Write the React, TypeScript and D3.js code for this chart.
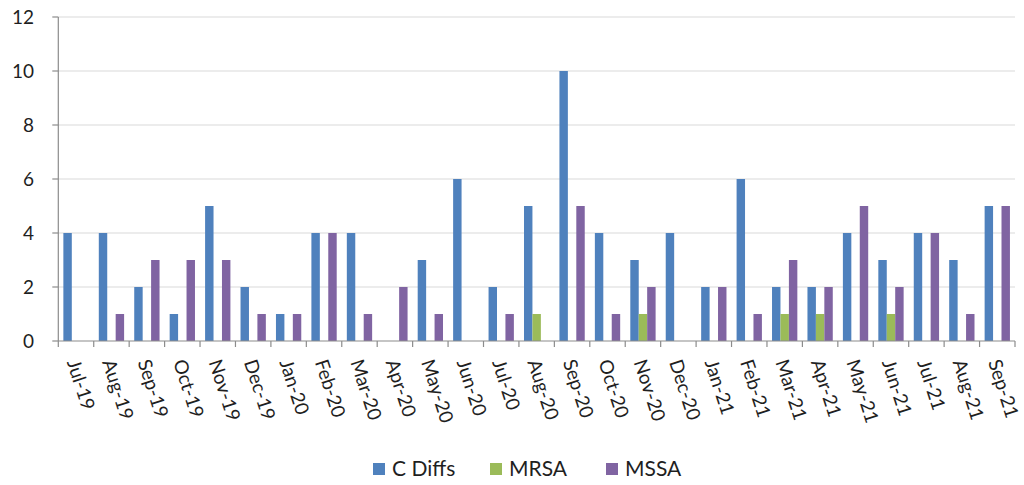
import React from "react";
import * as d3 from "d3";

const months = [
  "Jul-19", "Aug-19", "Sep-19", "Oct-19", "Nov-19", "Dec-19", "Jan-20", "Feb-20", "Mar-20",
  "Apr-20", "May-20", "Jun-20", "Jul-20", "Aug-20", "Sep-20", "Oct-20", "Nov-20", "Dec-20",
  "Jan-21", "Feb-21", "Mar-21", "Apr-21", "May-21", "Jun-21", "Jul-21", "Aug-21", "Sep-21",
];

const cDiffs = [4, 4, 2, 1, 5, 2, 1, 4, 4, 0, 3, 6, 2, 5, 10, 4, 3, 4, 2, 6, 2, 2, 4, 3, 4, 3, 5];
const mrsa = [0, 0, 0, 0, 0, 0, 0, 0, 0, 0, 0, 0, 0, 1, 0, 0, 1, 0, 0, 0, 1, 1, 0, 1, 0, 0, 0];
const mssa = [0, 1, 3, 3, 3, 1, 1, 4, 1, 2, 1, 0, 1, 0, 5, 1, 2, 0, 2, 1, 3, 2, 5, 2, 4, 1, 5];

const seriesNames = ["C Diffs", "MRSA", "MSSA"];
const seriesValues = [cDiffs, mrsa, mssa];
const seriesColors = ["#4f81bd", "#9bbb59", "#8064a2"];
const yTicks = [0, 2, 4, 6, 8, 10, 12];

const W = 1024;
const H = 485;
const left = 58.3;
const right = 1015;
const top = 17;
const bottom = 341;
const font = "Lato, 'Liberation Sans', sans-serif";
const textColor = "#1f1f1f";

export default function App() {
  const x = d3.scaleBand<string>().domain(months).range([left, right]).padding(0);
  const x1 = d3
    .scaleBand<string>()
    .domain(seriesNames)
    .range([0, x.bandwidth()])
    .paddingInner(0)
    .paddingOuter(0.6);
  const y = d3.scaleLinear().domain([0, 12]).range([bottom, top]);

  const tickXs = months.map((m) => x(m)!).concat([right]);

  const legendItems = [
    { name: "C Diffs", sx: 373, tx: 392 },
    { name: "MRSA", sx: 490, tx: 509 },
    { name: "MSSA", sx: 606, tx: 625 },
  ];

  return (
    <svg
      width={W}
      height={H}
      style={{ position: "absolute", left: 0, top: 0, background: "#fff" }}
      fontFamily={font}
    >
      {/* horizontal gridlines */}
      {yTicks.slice(1).map((t) => (
        <line key={t} x1={left} x2={right} y1={y(t)} y2={y(t)} stroke="#d9d9d9" strokeWidth={1.2} />
      ))}

      {/* bars */}
      {seriesValues.map((vals, si) =>
        vals.map((v, i) =>
          v > 0 ? (
            <rect
              key={`${si}-${i}`}
              x={x(months[i])! + x1(seriesNames[si])!}
              y={y(v)}
              width={x1.bandwidth()}
              height={y(0) - y(v)}
              fill={seriesColors[si]}
            />
          ) : null
        )
      )}

      {/* y axis */}
      <line x1={left} x2={left} y1={top} y2={bottom} stroke="#8c8c8c" strokeWidth={1.2} />
      {yTicks.map((t) => (
        <g key={t}>
          <line x1={left - 6} x2={left} y1={y(t)} y2={y(t)} stroke="#8c8c8c" strokeWidth={1.2} />
          <text x={34} y={y(t)} dy="0.35em" textAnchor="end" fontSize={19} fill={textColor}>
            {t}
          </text>
        </g>
      ))}

      {/* x axis */}
      <line x1={left} x2={right} y1={bottom} y2={bottom} stroke="#8c8c8c" strokeWidth={1.2} />
      {tickXs.map((tx, i) => (
        <line key={i} x1={tx} x2={tx} y1={bottom} y2={bottom + 6} stroke="#8c8c8c" strokeWidth={1.2} />
      ))}
      {months.map((m) => (
        <text
          key={m}
          transform={`translate(${x(m)! + x.bandwidth() / 2 - 3},${bottom + 19}) rotate(72)`}
          dy="0.35em"
          textAnchor="start"
          fontSize={19}
          fill={textColor}
        >
          {m}
        </text>
      ))}

      {/* legend */}
      {legendItems.map((it, i) => (
        <g key={it.name}>
          <rect x={it.sx} y={463} width={12} height={12} fill={seriesColors[i]} />
          <text x={it.tx} y={469} dy="0.35em" fontSize={21} fill={textColor}>
            {it.name}
          </text>
        </g>
      ))}
    </svg>
  );
}
